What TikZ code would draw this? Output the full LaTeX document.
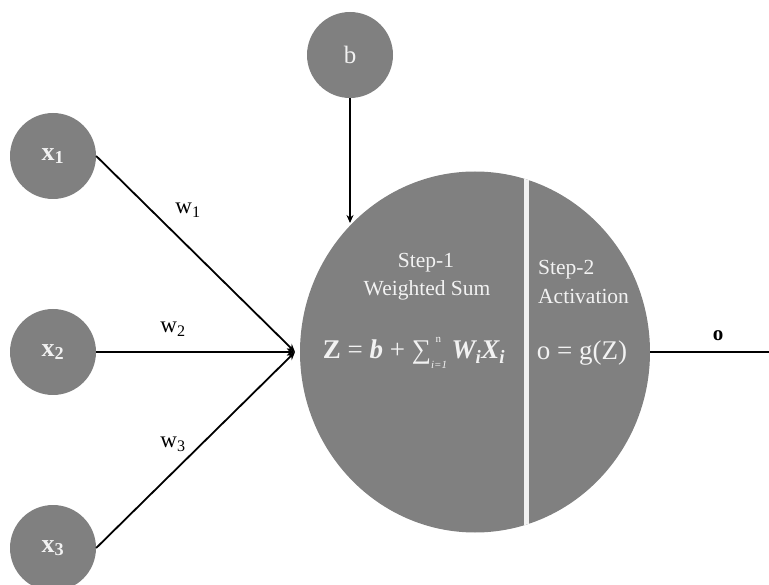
\documentclass[tikz,border=0pt]{standalone}
\usepackage{fontspec}
\setmainfont{Liberation Serif}
\usetikzlibrary{shapes.geometric,arrows.meta}
\definecolor{nodegray}{HTML}{808080}
\definecolor{txtwhite}{HTML}{F2F2F2}
\begin{document}
\begin{tikzpicture}[x=1pt,y=-1pt,
  inp/.style={circle,fill=nodegray,minimum size=86pt,inner sep=0pt,text=txtwhite},
  conn/.style={line width=1.8pt,black},
  tip/.style={-{Stealth[length=8pt,width=7pt]}},
  wlbl/.style={font=\fontsize{23}{25}\selectfont,inner sep=0pt},
  intxt/.style={text=txtwhite,inner sep=0pt,font=\fontsize{21.5}{26}\selectfont}]
\useasboundingbox (0,0) rectangle (769,585);
% input nodes
\node[inp,font=\fontsize{26}{28}\selectfont\bfseries] (x1) at (53,156) {x\textsubscript{1}};
\node[inp,font=\fontsize{26}{28}\selectfont\bfseries] (x2) at (53,352) {x\textsubscript{2}};
\node[inp,font=\fontsize{26}{28}\selectfont\bfseries] (x3) at (53,548) {x\textsubscript{3}};
\node[inp,font=\fontsize{25}{26}\selectfont] (b) at (350,55) {b};
% neuron
\node[ellipse,fill=nodegray,minimum width=350pt,minimum height=361pt,inner sep=0pt,
  path picture={\draw[txtwhite,line width=5pt]
    ([xshift=51pt]path picture bounding box.north) --
    ([xshift=51pt]path picture bounding box.south);}] (Z) at (475,352) {};
\node[intxt] (s1a) at (426,263) {Step-1};
\node[intxt] (s1b) at (427,290) {Weighted Sum};
\node[intxt,anchor=west] (s2a) at (538,270) {Step-2};
\node[intxt,anchor=west] (s2b) at (538,296) {Activation};
\node[text=txtwhite,inner sep=0pt,font=\fontsize{27}{30}\selectfont] (f1) at (414,353)
  {{\bfseries Z} = {\bfseries\itshape b} + ∑\makebox[0pt][l]{\,\raisebox{0.6em}{\fontsize{11}{11}\selectfont n}}\raisebox{-0.38em}{\fontsize{11}{11}\selectfont\itshape i=1}\,{\bfseries\itshape W\textsubscript{i}X\textsubscript{i}}};
\node[text=txtwhite,inner sep=0pt,font=\fontsize{27}{30}\selectfont] (f2) at (582,353) {o = g(Z)};
% connectors
\coordinate (conv) at (295,352);
\draw[conn,tip] (x1.east) -- (conv);
\draw[conn,tip] (x2.east) -- (conv);
\draw[conn,tip] (x3.east) -- (conv);
\coordinate (btip) at (350,223);
\draw[conn,tip] (b.south) -- (btip);
\coordinate (oend) at (769,352);
\draw[conn] (Z.east) -- (oend);
% labels
\node[wlbl] (w1) at (188,210) {w\textsubscript{1}};
\node[wlbl] (w2) at (173,329) {w\textsubscript{2}};
\node[wlbl] (w3) at (173,444) {w\textsubscript{3}};
\node[inner sep=0pt,font=\fontsize{21}{22}\selectfont\bfseries] (o) at (718,336) {o};
\end{tikzpicture}
\end{document}
